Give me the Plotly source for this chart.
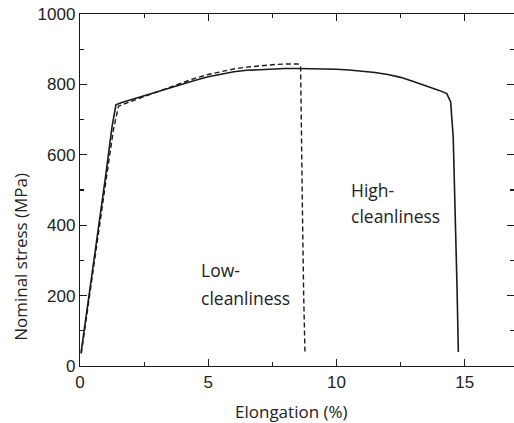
import plotly.graph_objects as go

# High-cleanliness (solid)
high_x = [0.04, 0.3, 0.7, 1.0, 1.25, 1.4, 1.6, 2.0, 2.5, 3.0, 3.5, 4.0, 4.5, 5.0, 5.5, 6.0,
          6.5, 7.0, 7.5, 8.0, 8.5, 9.0, 9.5, 10.0, 10.5, 11.0, 11.5, 12.0, 12.5, 13.0, 13.5,
          14.0, 14.3, 14.45, 14.55, 14.6, 14.65, 14.7, 14.75]
high_y = [37, 170, 380, 540, 680, 742, 748, 757, 767, 778, 790, 802, 812, 822, 830, 836,
          840, 842, 844, 845, 845, 845, 844, 843, 841, 838, 834, 828, 820, 808, 796,
          783, 774, 750, 650, 520, 380, 220, 40]

# Low-cleanliness (dashed)
low_x = [0.05, 0.5, 1.0, 1.3, 1.5, 2.0, 2.5, 3.0, 3.5, 4.0, 4.5, 5.0, 5.5, 6.0, 6.5, 7.0,
         7.5, 8.0, 8.3, 8.5, 8.6, 8.62, 8.67, 8.72, 8.77]
low_y = [35, 270, 520, 670, 738, 752, 765, 778, 793, 806, 818, 828, 837, 844, 849, 853,
         856, 858, 859, 858, 852, 700, 450, 200, 40]

x_ticks = [0, 5, 10, 15]
y_ticks = [0, 200, 400, 600, 800, 1000]

INK = "#1a1a1a"
TXT = "#222222"

fig = go.Figure()
fig.add_trace(go.Scatter(x=low_x, y=low_y, mode="lines",
                         line=dict(color=INK, width=1.4, dash="5px,3px"),
                         showlegend=False, hoverinfo="skip"))
fig.add_trace(go.Scatter(x=high_x, y=high_y, mode="lines",
                         line=dict(color=INK, width=1.6),
                         showlegend=False, hoverinfo="skip"))

label_font = dict(family="Open Sans", size=17.5, color=TXT)
for txt, xv, yv in [("Low-", 4.62, 272), ("cleanliness", 4.62, 192),
                    ("High-", 10.48, 500), ("cleanliness", 10.48, 425)]:
    fig.add_annotation(x=xv, y=yv, xref="x", yref="y", text=txt, showarrow=False,
                       xanchor="left", yanchor="middle", font=label_font)

fig.add_annotation(x=-0.136, y=0.31, xref="paper", yref="paper",
                   text="Nominal stress (MPa)", textangle=-90, showarrow=False,
                   xanchor="center", yanchor="middle",
                   font=dict(family="Open Sans", size=17, color=TXT))
fig.add_annotation(x=0.488, y=-0.128, xref="paper", yref="paper",
                   text="Elongation (%)", showarrow=False,
                   xanchor="center", yanchor="middle",
                   font=dict(family="Open Sans", size=17, color=TXT))

axis_common = dict(showgrid=False, zeroline=False, showline=True, linecolor=INK,
                   linewidth=1.2, ticks="inside", ticklen=7, tickwidth=1.2,
                   tickcolor=INK, mirror="ticks", automargin=False,
                   tickfont=dict(family="Liberation Sans", size=17, color=TXT))

fig.update_xaxes(range=[0, 16.92], tickvals=x_ticks,
                 minor=dict(dtick=2.5, tick0=0, ticks="inside", ticklen=4,
                            tickwidth=1.2, tickcolor=INK),
                 **axis_common)
fig.update_yaxes(range=[0, 1000], tickvals=y_ticks,
                 minor=dict(dtick=100, tick0=0, ticks="inside", ticklen=4,
                            tickwidth=1.2, tickcolor=INK),
                 **axis_common)

fig.update_layout(width=514, height=423,
                  margin=dict(l=80, r=0, t=14, b=57),
                  paper_bgcolor="white", plot_bgcolor="white")

fig.write_html("out.html", config={"displayModeBar": False, "staticPlot": True},
               post_script="document.body.style.margin='0';document.body.style.overflow='hidden';")
